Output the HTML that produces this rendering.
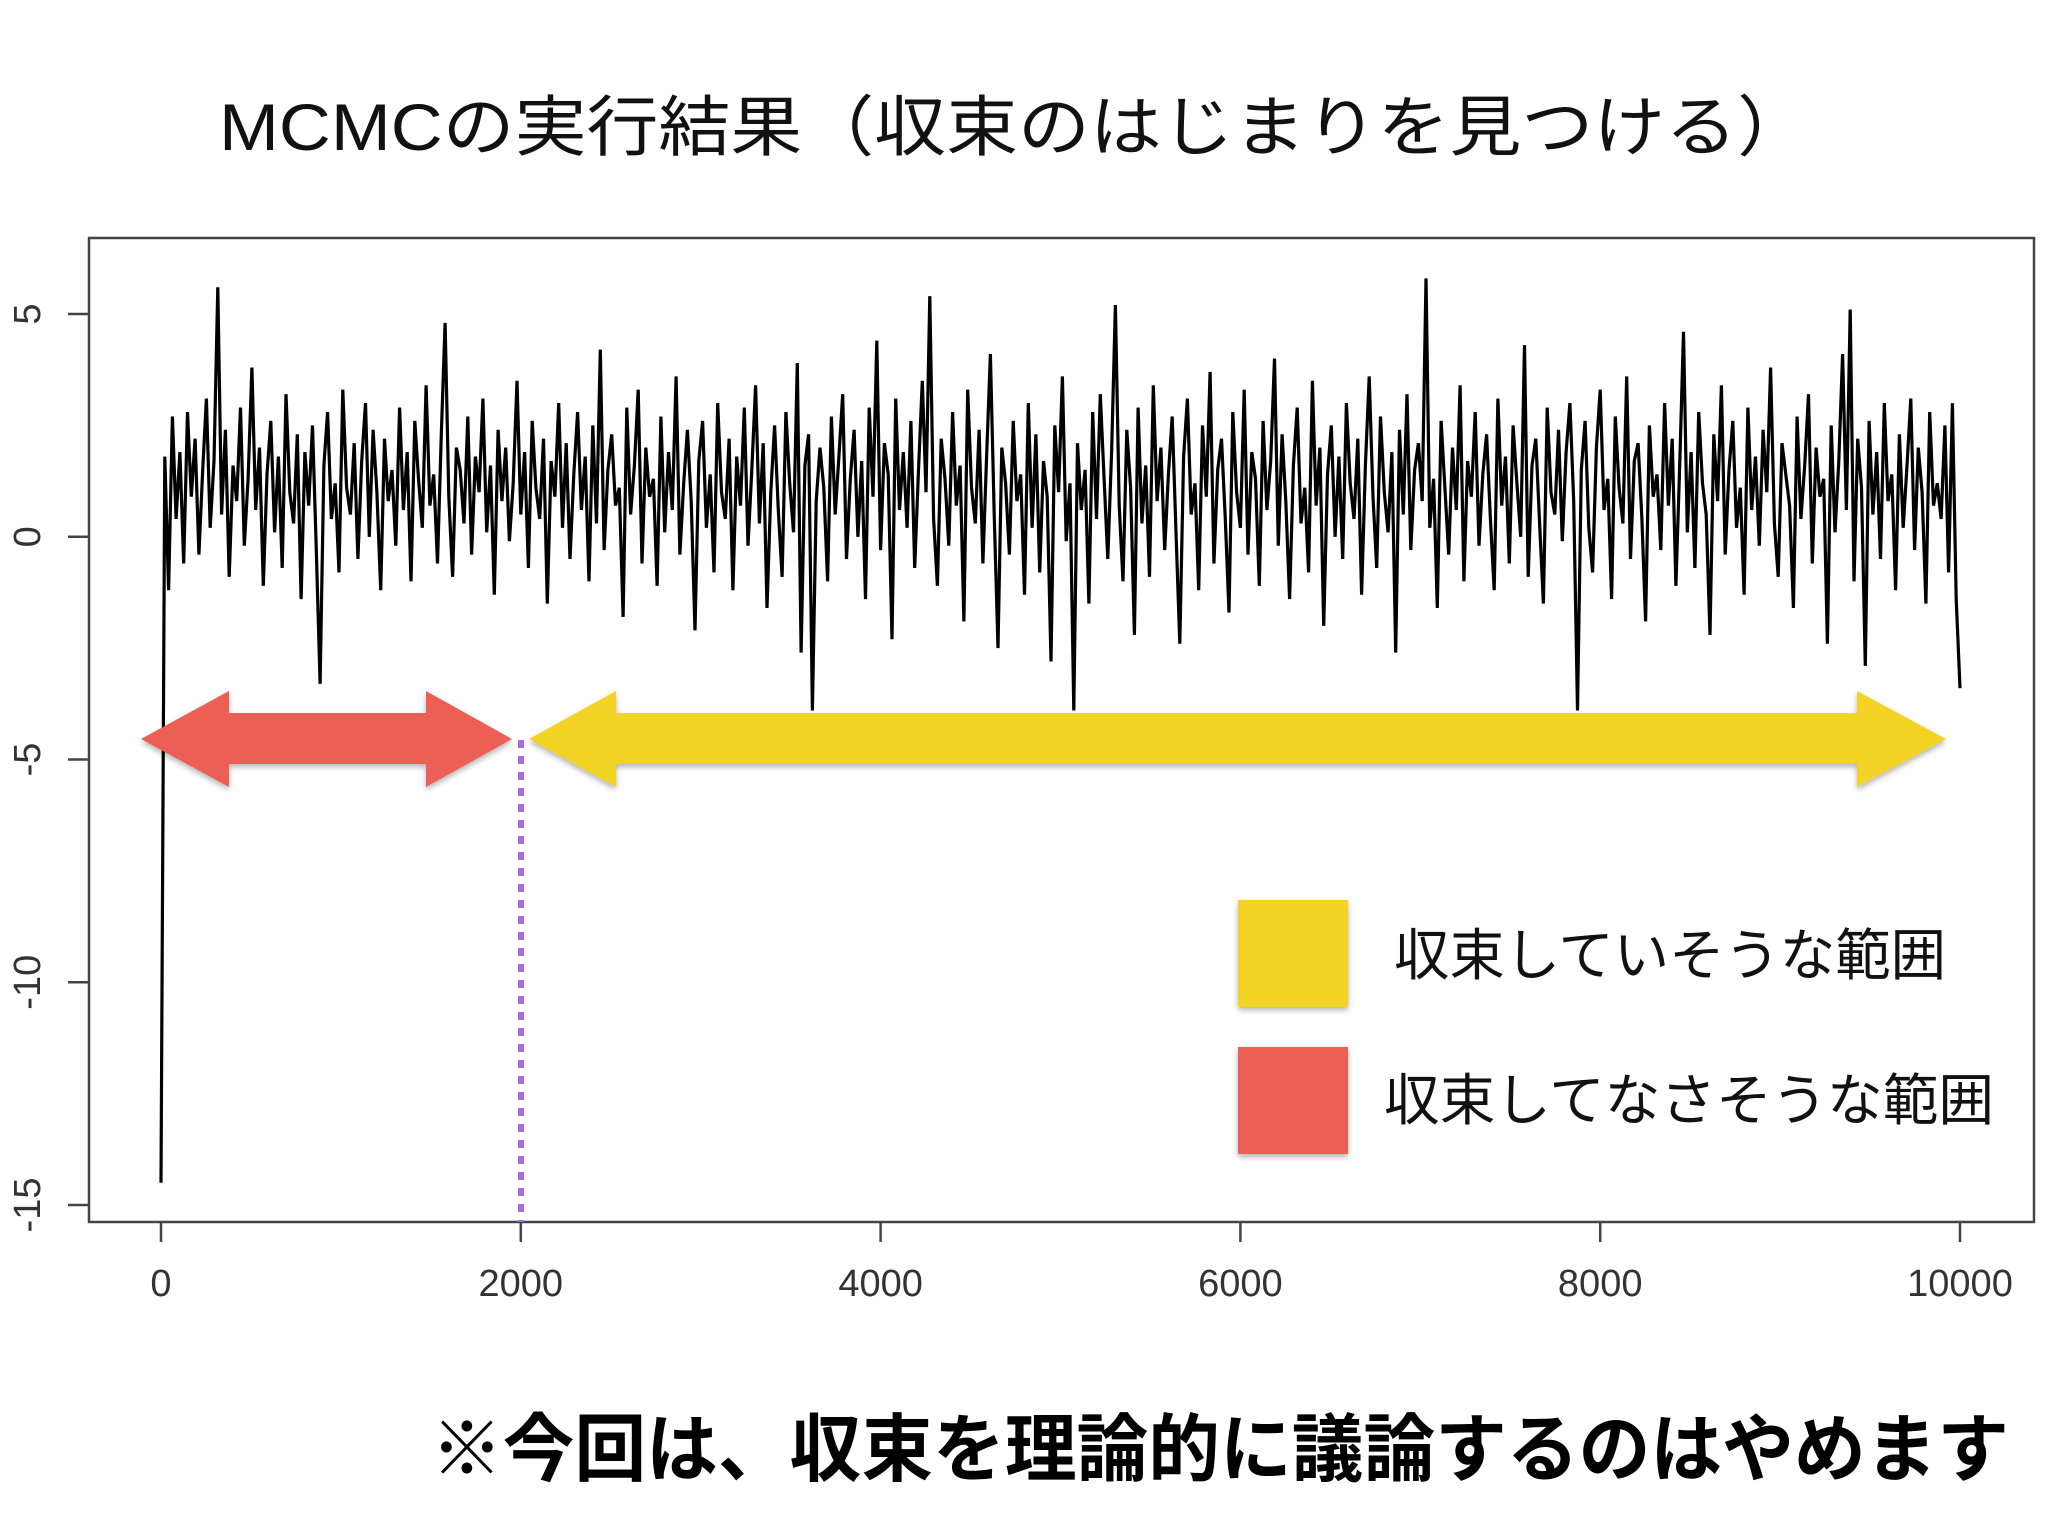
<!DOCTYPE html>
<html><head><meta charset="utf-8">
<style>
html,body{margin:0;padding:0;background:#fff;}
svg{display:block;}
text{font-family:"Liberation Sans","Noto Sans CJK JP",sans-serif;}
</style></head>
<body>
<svg id="chart" width="2048" height="1536" viewBox="0 0 2048 1536" xmlns="http://www.w3.org/2000/svg">
  <rect width="2048" height="1536" fill="#fff"/>
  <text x="219" y="150" font-size="66" textLength="1590" lengthAdjust="spacingAndGlyphs" fill="#111">MCMCの実行結果（収束のはじまりを見つける）</text>
  <rect x="89" y="238" width="1945" height="984" fill="none" stroke="#444" stroke-width="2.5"/>
  <g id="xaxis"></g>
  <g id="yaxis"></g>
  <g id="series"></g>
  <g>
    <defs><filter id="sh" x="-5%" y="-20%" width="110%" height="140%"><feDropShadow dx="0" dy="3" stdDeviation="3" flood-color="#000" flood-opacity="0.3"/></filter></defs>
    <polygon filter="url(#sh)" fill="#eb5e55" points="141,739 229,691 229,713 426,713 426,691 512,739 426,787 426,764 229,764 229,787"/>
    <polygon filter="url(#sh)" fill="#f2d327" points="529,739 616,691 616,713 1857,713 1857,691 1946,739 1857,787 1857,764 616,764 616,787"/>
    <line x1="521" y1="740" x2="521" y2="1222" stroke="#a86be0" stroke-width="6" stroke-dasharray="8,8"/>
    <rect filter="url(#sh)" x="1238" y="900" width="110" height="107" fill="#f2d327"/>
    <text x="1394" y="975" font-size="56" textLength="552" lengthAdjust="spacingAndGlyphs" fill="#111">収束していそうな範囲</text>
    <rect filter="url(#sh)" x="1238" y="1047" width="110" height="107" fill="#eb5e55"/>
    <text x="1384" y="1120" font-size="56" textLength="610" lengthAdjust="spacingAndGlyphs" fill="#111">収束してなさそうな範囲</text>
  </g>
  <text x="431" y="1475" font-size="74" font-weight="bold" textLength="1578" lengthAdjust="spacingAndGlyphs" fill="#000">※今回は、収束を理論的に議論するのはやめます</text>
</svg>
<script>
const xTicks = [0, 2000, 4000, 6000, 8000, 10000];
const yTicks = [5, 0, -5, -10, -15];
const yTickLabels = ["5", "0", "-5", "-10", "-15"];
const iterationMax = 10000;
const traceValues = [
-14.5,1.8,-1.2,2.7,0.4,1.9,-0.6,2.8,0.9,2.2,-0.4,1.5,3.1,0.2,1.7,5.6,0.5,2.4,-0.9,1.6,0.8,2.9,-0.2,1.3,3.8,
0.6,2.0,-1.1,1.4,2.6,0.1,1.8,-0.7,3.2,1.0,0.3,2.3,-1.4,1.9,0.7,2.5,-0.3,-3.3,1.6,2.8,0.4,1.2,-0.8,3.3,1.1,
0.5,2.1,-0.5,1.7,3.0,0.0,2.4,1.0,-1.2,2.2,0.8,1.5,-0.2,2.9,0.6,1.9,-1.0,2.6,1.3,0.2,3.4,0.7,1.4,-0.6,2.3,
4.8,0.9,-0.9,2.0,1.5,0.3,2.7,-0.4,1.8,1.0,3.1,0.1,1.6,-1.3,2.4,0.8,2.0,-0.1,1.2,3.5,0.5,1.9,-0.7,2.6,1.1,
0.4,2.2,-1.5,1.7,0.9,3.0,0.2,2.1,-0.5,1.4,2.8,0.6,1.8,-1.0,2.5,0.3,4.2,-0.3,1.5,2.3,0.7,1.1,-1.8,2.9,0.5,
1.6,3.3,-0.6,2.0,0.9,1.3,-1.1,2.7,0.1,1.9,0.6,3.6,-0.4,1.2,2.4,0.8,-2.1,1.7,2.6,0.2,1.4,-0.8,3.0,1.0,0.4,
2.2,-1.2,1.8,0.7,2.9,-0.2,1.5,3.4,0.3,2.1,-1.6,1.0,2.5,0.6,-0.9,2.8,1.2,0.1,3.9,-2.6,1.6,2.3,-3.9,0.8,2.0,
1.1,-1.0,2.7,0.5,1.8,3.2,-0.5,1.3,2.4,0.0,1.7,-1.4,2.9,0.9,4.4,-0.3,2.1,1.4,-2.3,3.1,0.6,1.9,0.2,2.6,-0.7,
1.5,3.5,1.0,5.4,0.4,-1.1,2.2,1.3,-0.2,2.8,0.7,1.6,-1.9,3.3,1.1,0.3,2.4,-0.6,1.8,4.1,0.5,-2.5,2.0,1.2,-0.4,
2.6,0.8,1.4,-1.3,3.0,0.2,2.3,-0.8,1.7,0.9,-2.8,2.5,1.0,3.6,-0.1,1.2,-3.9,2.1,0.6,1.5,-1.5,2.8,0.4,3.2,1.3,
-0.5,1.9,5.2,0.7,-1.0,2.4,1.1,-2.2,2.9,0.3,1.6,-0.9,3.4,0.8,2.0,-0.3,1.4,2.7,0.1,-2.4,1.8,3.1,0.5,1.2,-1.2,
2.5,0.9,3.7,-0.6,1.5,2.2,0.4,-1.7,2.8,1.0,0.2,3.3,-0.4,1.9,1.3,-1.1,2.6,0.6,1.7,4.0,-0.2,2.3,0.8,-1.4,1.6,
2.9,0.3,1.1,-0.8,3.5,0.7,2.0,-2.0,1.4,2.5,0.0,1.8,-0.5,3.0,1.2,0.4,2.2,-1.3,1.6,3.6,0.9,-0.7,2.7,1.0,0.1,
1.9,-2.6,2.4,0.5,3.2,-0.3,1.5,2.1,0.8,5.8,0.2,1.3,-1.6,2.6,1.1,-0.4,2.0,0.6,3.4,-1.0,1.7,0.9,2.8,-0.2,1.4,
2.3,0.4,-1.2,3.1,0.7,1.8,-0.6,2.5,1.2,0.0,4.3,-0.9,1.6,2.2,0.3,-1.5,2.9,1.0,0.5,2.4,-0.1,1.9,3.0,0.8,-3.9,
1.5,2.6,0.2,-0.8,2.0,3.3,0.6,1.3,-1.4,2.7,1.1,0.3,3.6,-0.5,1.7,2.1,0.4,-1.9,2.5,0.9,1.4,-0.3,3.0,0.7,2.2,
-1.1,1.6,4.6,0.1,1.9,-0.7,2.8,1.2,0.5,-2.2,2.3,0.8,3.4,-0.4,1.5,2.6,0.2,1.1,-1.3,2.9,0.6,1.8,-0.2,2.4,1.0,
3.8,0.3,-0.9,2.1,1.4,0.7,-1.6,2.7,0.4,1.6,3.2,-0.6,2.0,0.9,1.3,-2.4,2.5,0.1,1.7,4.1,0.6,5.1,-1.0,2.2,1.1,
-2.9,2.6,0.5,1.9,-0.5,3.0,0.8,1.4,-1.2,2.3,0.2,1.6,3.1,-0.3,2.0,1.0,-1.5,2.8,0.7,1.2,0.4,2.5,-0.8,3.0,-1.4,
-3.4
];
const X0 = 161, X1 = 1960, Y5 = 314, YM15 = 1205;
function xScale(v){ return X0 + (v - 0) / 10000 * (X1 - X0); }
function yScale(v){ return Y5 + (5 - v) / 20 * (YM15 - Y5); }
const NS = "http://www.w3.org/2000/svg";
function mk(tag, attrs){ const e = document.createElementNS(NS, tag); for (const k in attrs) e.setAttribute(k, attrs[k]); return e; }
const xa = document.getElementById('xaxis');
xTicks.forEach(t => {
  const x = xScale(t);
  const ln = mk('line', {x1:x, y1:1222, x2:x, y2:1242, stroke:'#444', 'stroke-width':2.5});
  
  
  xa.appendChild(ln);
  const tx = mk('text', {x:x, y:1296, 'font-size':38, 'text-anchor':'middle', fill:'#333'});
  
  
  tx.textContent = String(t);
  xa.appendChild(tx);
});
const ya = document.getElementById('yaxis');
yTicks.forEach((t, i) => {
  const y = yScale(t);
  const ln = mk('line', {x1:68, y1:y, x2:89, y2:y, stroke:'#444', 'stroke-width':2.5});
  
  
  ya.appendChild(ln);
  const tx = mk('text', {x:0, y:0, 'font-size':38, 'text-anchor':'middle', fill:'#333', transform:'translate(40,' + y + ') rotate(-90)'});
  
  
  tx.textContent = yTickLabels[i];
  ya.appendChild(tx);
});
const stepSize = iterationMax / (traceValues.length - 1);
const pts = traceValues.map((v, i) => xScale(i * stepSize).toFixed(1) + ',' + yScale(v).toFixed(1)).join(' ');
const pl = mk('polyline', {points:pts, fill:'none', stroke:'#000', 'stroke-width':3.2, 'stroke-linejoin':'miter'});


document.getElementById('series').appendChild(pl);
</script>
</body></html>
